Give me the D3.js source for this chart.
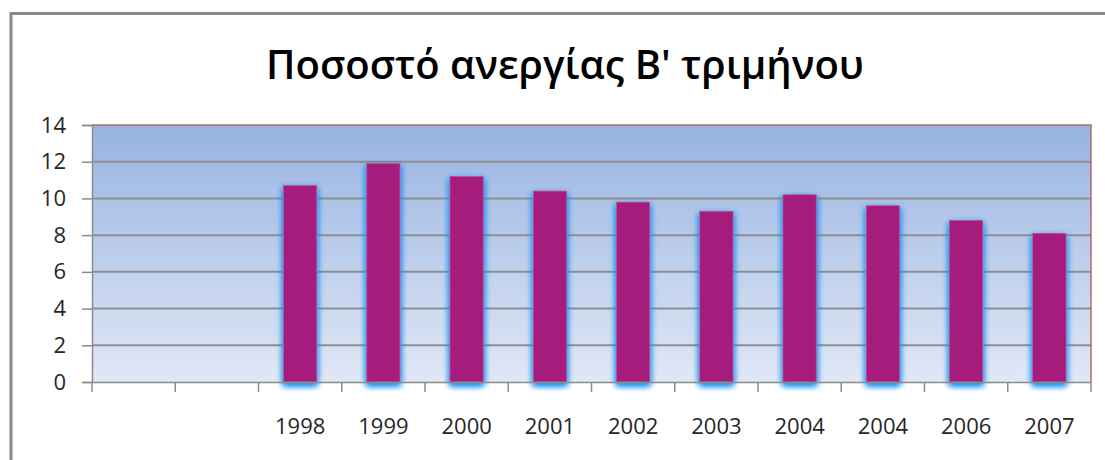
<!DOCTYPE html>
<html>
<head>
<meta charset="utf-8">
<title>Ποσοστό ανεργίας Β' τριμήνου</title>
<script src="https://d3js.org/d3.v7.min.js"></script>
<style>
    body {margin: 0; background: white;}
    svg {display: block;}
    text {font-family: "Open Sans", "Noto Sans", sans-serif; fill: #262626;}
</style>
</head>
<body>
<svg width="1105" height="460"></svg>
<script>
// categories (first two slots are empty in the original sheet)
var slots = ["s1", "s2", "1998", "1999", "2000", "2001", "2002", "2003", "2004a", "2004b", "2006", "2007"];
var slotLabels = ["", "", "1998", "1999", "2000", "2001", "2002", "2003", "2004", "2004", "2006", "2007"];
var rates = [null, null, 10.7, 11.9, 11.2, 10.4, 9.8, 9.3, 10.2, 9.6, 8.8, 8.1];
var yTicks = [0, 2, 4, 6, 8, 10, 12, 14];

var svg = d3.select("svg");
var plot = {left: 92, top: 125, right: 1091, bottom: 382};

var xs = d3.scaleBand().domain(slots).range([plot.left, plot.right]).paddingInner(0).paddingOuter(0);
var ys = d3.scaleLinear().domain([0, 14]).range([plot.bottom, plot.top]);

var defs = svg.append("defs");
var grad = defs.append("linearGradient").attr("id", "bg").attr("x1", 0).attr("y1", 0).attr("x2", 0).attr("y2", 1);
grad.append("stop").attr("offset", "0%").attr("stop-color", "#97b3e2");
grad.append("stop").attr("offset", "100%").attr("stop-color", "#e1e8f5");

var glow = defs.append("filter").attr("id", "glow").attr("x", "-40%").attr("y", "-10%").attr("width", "180%").attr("height", "120%");
glow.append("feFlood").attr("flood-color", "#1592f2").attr("result", "c");
glow.append("feComposite").attr("in", "c").attr("in2", "SourceAlpha").attr("operator", "in").attr("result", "s");
glow.append("feGaussianBlur").attr("in", "s").attr("stdDeviation", 3).attr("result", "b");
glow.append("feOffset").attr("in", "b").attr("dy", 2.5).attr("result", "o");
var merge = glow.append("feMerge");
merge.append("feMergeNode").attr("in", "o");
merge.append("feMergeNode").attr("in", "o");
merge.append("feMergeNode").attr("in", "SourceGraphic");

// outer frame (only top and left visible)
svg.append("path")
    .attr("d", "M11,462 L11,13.5 L1107,13.5")
    .attr("fill", "none")
    .attr("stroke", "#8a8a8a")
    .attr("stroke-width", 3);

// title
svg.append("text")
    .attr("x", 565)
    .attr("y", 79)
    .attr("text-anchor", "middle")
    .style("font-size", "40px")
    .style("font-weight", "600")
    .style("fill", "#000")
    .text("Ποσοστό ανεργίας Β' τριμήνου");

// plot background
svg.append("rect")
    .attr("x", plot.left).attr("y", plot.top)
    .attr("width", plot.right - plot.left).attr("height", plot.bottom - plot.top)
    .attr("fill", "url(#bg)");

// gridlines
svg.append("g")
    .selectAll("line")
    .data(yTicks.filter(function(d) { return d > 0 && d < 14; }))
    .enter()
    .append("line")
        .attr("x1", plot.left).attr("x2", plot.right)
        .attr("y1", function(d) { return ys(d); })
        .attr("y2", function(d) { return ys(d); })
        .attr("stroke", "#8e8e8e")
        .attr("stroke-width", 2);

// plot border top and right (reddish)
svg.append("path")
    .attr("d", "M" + plot.left + "," + ys(14) + " L" + plot.right + "," + ys(14) + " L" + plot.right + "," + plot.bottom)
    .attr("fill", "none")
    .attr("stroke", "#b46a6a")
    .attr("stroke-width", 1.5);

// bars
var bw = xs.bandwidth() / 2.5;
svg.append("g")
    .selectAll("rect")
    .data(slots.map(function(s, i) { return {slot: s, v: rates[i]}; }).filter(function(d) { return d.v !== null; }))
    .enter()
    .append("rect")
        .attr("x", function(d) { return xs(d.slot) + xs.bandwidth() / 2 - bw / 2; })
        .attr("y", function(d) { return ys(d.v); })
        .attr("width", bw)
        .attr("height", function(d) { return ys(0) - ys(d.v); })
        .attr("fill", "#a51b7d")
        .attr("stroke", "#b5559c")
        .attr("stroke-width", 0.8)
        .attr("filter", "url(#glow)");

// y axis
var yAxis = svg.append("g")
    .attr("transform", "translate(" + plot.left + ",0)")
    .call(d3.axisLeft(ys).tickValues(yTicks).tickSize(10).tickPadding(16).tickFormat(d3.format("d")));
yAxis.select(".domain").attr("stroke", "#8c8c8c").attr("stroke-width", 1.5);
yAxis.selectAll(".tick line").attr("stroke", "#8c8c8c").attr("stroke-width", 1.5);
yAxis.selectAll(".tick text").style("font-size", "22px").style("fill", "#262626").attr("font-family", null);

// x axis
var xAxis = svg.append("g")
    .attr("transform", "translate(0," + plot.bottom + ")")
    .call(d3.axisBottom(xs).tickSize(0).tickFormat(function(d, i) { return slotLabels[i]; }));
xAxis.select(".domain").attr("stroke", "#8c8c8c").attr("stroke-width", 1.5);
xAxis.selectAll(".tick text").attr("y", 0).attr("dy", "2.35em").style("font-size", "22px").style("fill", "#262626").attr("font-family", null);

// category separator ticks
svg.append("g")
    .selectAll("line")
    .data(slots.concat(["end"]))
    .enter()
    .append("line")
        .attr("x1", function(d) { return d === "end" ? plot.right : xs(d); })
        .attr("x2", function(d) { return d === "end" ? plot.right : xs(d); })
        .attr("y1", plot.bottom)
        .attr("y2", plot.bottom + 10)
        .attr("stroke", "#8c8c8c")
        .attr("stroke-width", 1.5);
</script>
</body>
</html>
